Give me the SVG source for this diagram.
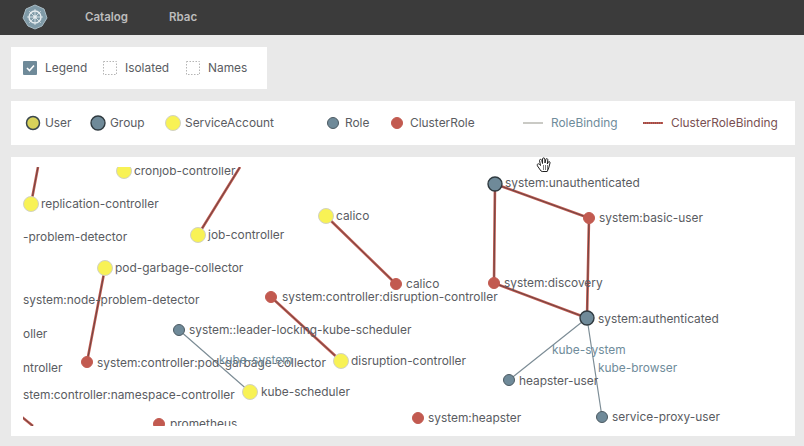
<svg xmlns="http://www.w3.org/2000/svg" width="804" height="446" viewBox="0 0 804 446">
<style>
text{font-family:"Inter","Liberation Sans",sans-serif;font-size:11.9px;fill:#5a5c62}
.nav{fill:#bdbdbd;font-weight:600;font-size:11.5px}
.rb{fill:#6f8c9b}
.crb{fill:#7a5052}
.sa{fill:#f8f255;stroke:#d2d2c4;stroke-width:1}
.role{fill:#6f8a99;stroke:#4c5a62;stroke-width:1}
.cr{fill:#c25a50;stroke:#c25a50;stroke-width:1}
.grp{fill:#6f8a99;stroke:#2f3a40;stroke-width:1.4}
.lrb{stroke:#7d8d96;stroke-width:1.2;fill:none}
.lcrb{stroke:#c2594e;stroke-width:2.6;fill:none}
.lcrb2{stroke:#3c3c40;stroke-width:1;fill:none;stroke-opacity:.65}
.box{fill:#fff;stroke:#b5b5b5;stroke-width:1;stroke-dasharray:1.5 1.5}
</style>
<defs>
<clipPath id="graph"><rect x="23" y="167" width="772" height="259"/></clipPath>
</defs>
<rect width="804" height="446" fill="#e9e9e9"/>
<g id="header">
<rect width="804" height="35" fill="#3b3b3b"/>
<polygon points="35,5 44,9 47,18 42,26 35,29 28,26 23,18 26,9" fill="#7f9aa7" stroke="#a9bbc4" stroke-width="1"/>
<circle cx="35" cy="17" r="6" fill="none" stroke="#e6ecef" stroke-width="1.4"/>
<path d="M35 9v16M27 17h16M29.300 11.300l11.400 11.400M40.700 11.300l-11.400 11.400" stroke="#e6ecef" stroke-width="0.8" fill="none"/>
<circle cx="35" cy="17" r="1.800" fill="#e6ecef"/>
<text class="nav" x="85" y="21">Catalog</text>
<text class="nav" x="169" y="21">Rbac</text>
</g>
<g id="options">
<rect x="11" y="47" width="256" height="42" fill="#fff"/>
<rect x="23" y="61" width="14" height="14" rx="1" fill="#6f8a99"/>
<path d="M27 68l2.500 2.500 4.500-5" fill="none" stroke="#fff" stroke-width="1.600"/>
<text x="45" y="72">Legend</text>
<rect class="box" x="103.500" y="61.500" width="13" height="13"/>
<text x="125" y="72">Isolated</text>
<rect class="box" x="186.500" y="61.500" width="13" height="13"/>
<text x="208" y="72">Names</text>
</g>
<g id="legend">
<rect x="11" y="101" width="784" height="44" fill="#fff"/>
<circle cx="33" cy="123" r="6.500" fill="#d8d25a" stroke="#3a474e" stroke-width="1.500"/>
<text x="45" y="127">User</text>
<circle class="grp" cx="98" cy="123" r="7"/>
<text x="110" y="127">Group</text>
<circle class="sa" cx="173" cy="123" r="7.500"/>
<text x="185" y="127">ServiceAccount</text>
<circle class="role" cx="333" cy="123" r="5.500"/>
<text x="345" y="127">Role</text>
<circle class="cr" cx="397" cy="123" r="5.500"/>
<text x="410" y="127">ClusterRole</text>
<line x1="523" y1="123" x2="543" y2="123" stroke="#b8b8b2" stroke-width="1.500"/>
<text class="rb" x="551" y="127">RoleBinding</text>
<line x1="643" y1="123" x2="663" y2="123" stroke="#c25a50" stroke-width="2"/>
<line x1="643" y1="123" x2="663" y2="123" class="lcrb2" stroke-dasharray="1 1"/>
<text class="crb" x="671" y="127">ClusterRoleBinding</text>
</g>
<rect x="11" y="157" width="784" height="279" fill="#fff"/>
<g clip-path="url(#graph)">
<g id="connectors">
<path class="lcrb" d="M38 167L31 204M240 167L198 235M326 216L396 284M105 268L87 362M271 297L341 361M495 184L589 218M495 184L494 283M589 218L587 318M494 283L587 318M22 417L33 426"/>
<path class="lcrb2" d="M38 167L31 204M240 167L198 235M326 216L396 284M105 268L87 362M271 297L341 361M495 184L589 218M495 184L494 283M589 218L587 318M494 283L587 318M22 417L33 426"/>
<path class="lrb" d="M179 330L250 392M587 318L509 380M587 318L602 417"/>
</g>
<g id="cronjob-controller"><circle class="sa" cx="124" cy="171" r="7.500"/><text x="134" y="175">cronjob-controller</text></g>
<g id="replication-controller"><circle class="sa" cx="31" cy="204" r="7.500"/><text x="41" y="208">replication-controller</text></g>
<g id="problem-detector"><text x="23" y="241">-problem-detector</text></g>
<g id="job-controller"><circle class="sa" cx="198" cy="235" r="7.500"/><text x="208" y="239">job-controller</text></g>
<g id="calico-sa"><circle class="sa" cx="326" cy="216" r="7.500"/><text x="336" y="220">calico</text></g>
<g id="calico-cr"><circle class="cr" cx="396" cy="284" r="5.500"/><text x="406" y="288">calico</text></g>
<g id="pod-garbage-collector"><circle class="sa" cx="105" cy="268" r="7.500"/><text x="115" y="272">pod-garbage-collector</text></g>
<g id="node-problem-detector"><text x="23" y="304">system:node-problem-detector</text></g>
<g id="disruption-role"><circle class="cr" cx="271" cy="297" r="5.500"/><text x="282" y="301">system:controller:disruption-controller</text></g>
<g id="roller"><text x="23" y="338">oller</text></g>
<g id="leader-locking"><circle class="role" cx="179" cy="330" r="5.500"/><text x="189" y="334">system::leader-locking-kube-scheduler</text></g>
<g id="ntroller"><text x="23" y="372">ntroller</text></g>
<g id="pod-gc-role"><circle class="cr" cx="87" cy="362" r="5.500"/><text x="97" y="367">system:controller:pod-garbage-collector</text></g>
<g id="disruption-controller"><circle class="sa" cx="341" cy="361" r="7.500"/><text x="351" y="365">disruption-controller</text></g>
<g id="namespace-controller"><text x="23" y="399">stem:controller:namespace-controller</text></g>
<g id="kube-scheduler"><circle class="sa" cx="250" cy="392" r="7.500"/><text x="261" y="396">kube-scheduler</text></g>
<g id="prometheus"><circle class="cr" cx="159" cy="424" r="5.500"/><text x="170" y="428">prometheus</text></g>
<g id="system-heapster"><circle class="cr" cx="418" cy="418" r="5.500"/><text x="428" y="422">system:heapster</text></g>
<g id="system-unauthenticated"><circle class="grp" cx="495" cy="184" r="7"/><text x="505" y="187">system:unauthenticated</text></g>
<g id="system-basic-user"><circle class="cr" cx="589" cy="218" r="5.500"/><text x="599" y="222">system:basic-user</text></g>
<g id="system-discovery"><circle class="cr" cx="494" cy="283" r="5.500"/><text x="504" y="287">system:discovery</text></g>
<g id="system-authenticated"><circle class="grp" cx="587" cy="318" r="7"/><text x="598" y="323">system:authenticated</text></g>
<g id="heapster-user"><circle class="role" cx="509" cy="380" r="5.500"/><text x="519" y="385">heapster-user</text></g>
<g id="service-proxy-user"><circle class="role" cx="602" cy="417" r="5.500"/><text x="612" y="421">service-proxy-user</text></g>
<g id="edge-labels">
<text class="rb" x="219" y="364">kube-system</text>
<text class="rb" x="552" y="354">kube-system</text>
<text class="rb" x="598" y="372">kube-browser</text>
</g>
</g>
<g id="cursor">
<path d="M541 171l-3.500-5c-1-2 1-3 2-1.500l1 1-1-5c0-1.500 2-1.500 2.300 0l.7 3v-4.500c0-1.500 2.200-1.500 2.300 0l.2 4 .8-3.500c.3-1.500 2.200-1 2 .5l-.5 4 1-2c.6-1 2-.5 1.700 1l-1.300 5-1.500 3.500h-5z" fill="#fff" stroke="#222" stroke-width="1"/>
<path d="M543.500 165v5M545.500 165v5M547.500 165v5" stroke="#222" stroke-width="0.6" fill="none"/>
</g>
</svg>
